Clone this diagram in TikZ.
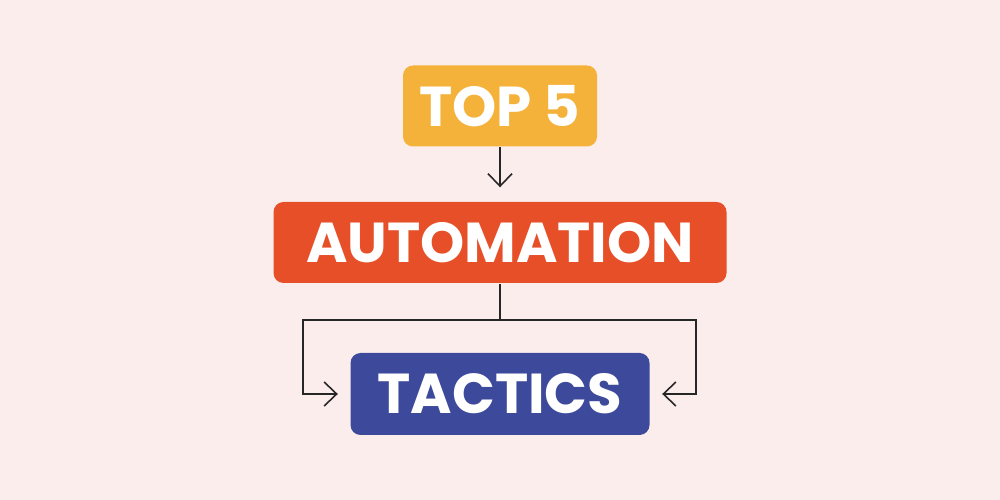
\documentclass[tikz,border=0pt]{standalone}
\usepackage{fontspec}
\newfontfamily\boxfont{Poppins}
\usetikzlibrary{positioning,arrows.meta}
\definecolor{bgpink}{HTML}{FCEDED}
\definecolor{topyellow}{HTML}{F4B23A}
\definecolor{autored}{HTML}{E64F27}
\definecolor{tacticblue}{HTML}{3D4A9C}
\tikzset{
	labelbox/.style={rounded corners=0.1cm, text=white, inner sep=0pt, minimum height=0.81cm,
		font=\boxfont\bfseries\fontsize{16}{18}\selectfont},
	flow/.style={line width=0.45pt, color=black!85},
	flowarrow/.style={flow, -{Straight Barb[length=1.25mm, width=2.4mm, line width=0.45pt]}}
}
\begin{document}
\begin{tikzpicture}
		%%%%% START %%%%%
		
		\fill[bgpink] (0, 0) rectangle (10, 5);
		\useasboundingbox (0, 0) rectangle (10, 5);
		
		\node[labelbox, fill=topyellow, minimum width=1.94cm] (top) at (5, 3.94) {TOP 5};
		\node[labelbox, fill=autored, minimum width=4.53cm] (auto) at (5, 2.575) {AUTOMATION};
		\node[labelbox, fill=tacticblue, minimum width=2.99cm, minimum height=0.82cm] (tactics) at (5, 1.06) {TACTICS};
		
		\draw[flowarrow, shorten >=0.14cm] (top.south) -- (auto.north);
		
		\coordinate (fork) at (5, 1.80);
		\coordinate (leftbend) at (3.03, 1.80);
		\coordinate (rightbend) at (6.96, 1.80);
		
		\draw[flow] (auto.south) -- (fork);
		\draw[flowarrow, shorten >=0.12cm] (fork) -- (leftbend) |- (tactics.west);
		\draw[flowarrow, shorten >=0.12cm] (fork) -- (rightbend) |- (tactics.east);
		
		%%%%% END %%%%%
	\end{tikzpicture}
\end{document}
